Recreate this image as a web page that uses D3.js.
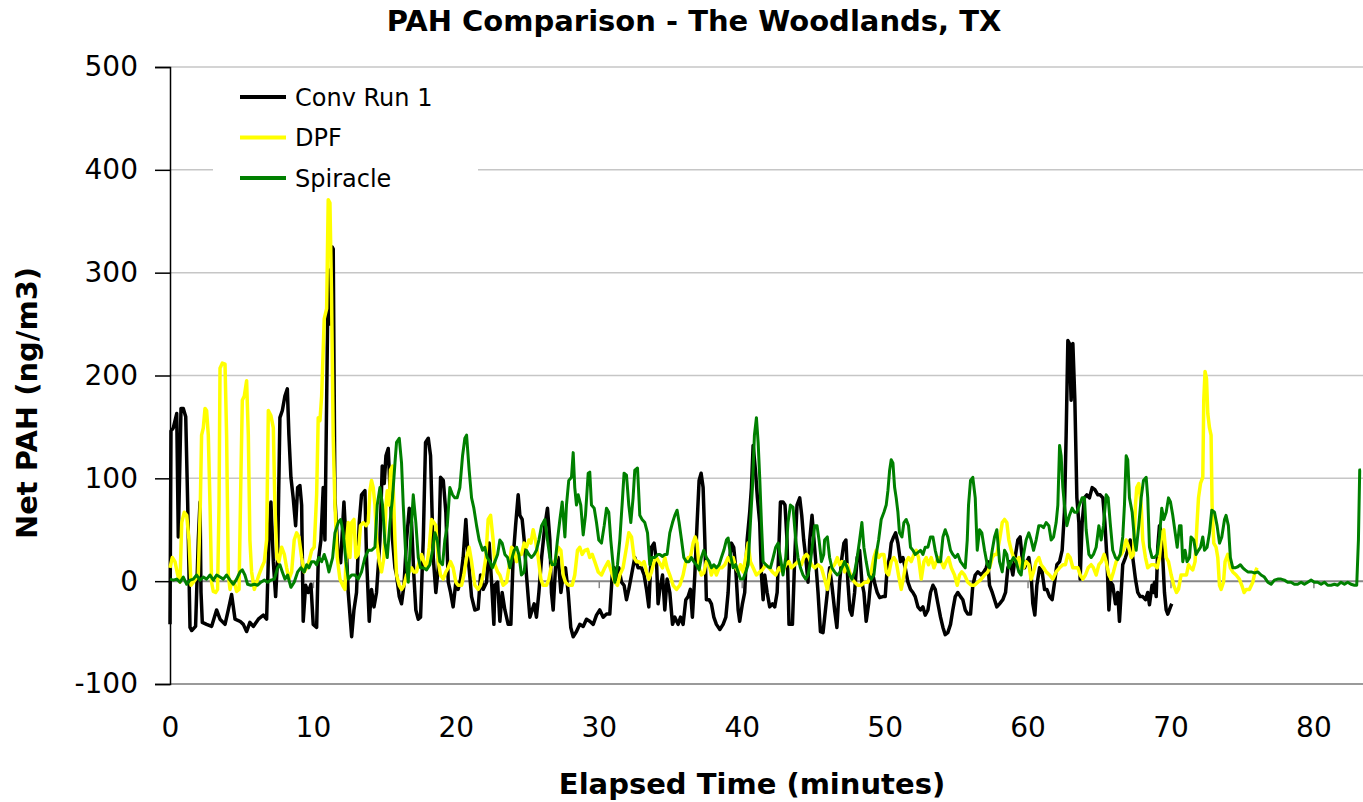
<!DOCTYPE html>
<html>
<head>
<meta charset="utf-8">
<script src="https://cdn.jsdelivr.net/npm/d3@7"></script>
<style>
  body { margin: 0; background: #fff; }
  text { font-family: "DejaVu Sans", Verdana, sans-serif; }
</style>
</head>
<body>
<div id="chart"></div>
<script>
// data: [minutes, ng/m3]

var yTicks = [-100, 0, 100, 200, 300, 400, 500];
var xTicks = [0, 10, 20, 30, 40, 50, 60, 70, 80];
var seriesNames = ['Conv Run 1', 'DPF', 'Spiracle'];
var seriesColors = ['#000000', '#ffff00', '#008000'];
var seriesWidths = [3.5, 3.5, 3];

var convRun1 = [[0.00,-42],[0.07,146],[0.23,149],[0.47,163],[0.58,43],[0.77,168],[0.93,168],[1.10,160],[1.24,74],[1.40,-45],[1.52,-48],[1.79,-44],[1.98,40],[2.10,77],[2.17,-11],[2.26,-40],[2.56,-42],[2.91,-44],[3.26,-28],[3.50,-37],[3.85,-42],[4.08,-28],[4.31,-13],[4.55,-37],[4.90,-39],[5.13,-42],[5.36,-49],[5.59,-40],[5.83,-44],[6.18,-37],[6.53,-33],[6.76,-37],[6.92,40],[7.06,77],[7.23,19],[7.39,-15],[7.53,23],[7.69,159],[7.86,166],[8.04,180],[8.21,187],[8.32,142],[8.46,101],[8.62,81],[8.79,54],[8.93,91],[9.09,93],[9.21,74],[9.32,-39],[9.49,-4],[9.67,-11],[9.86,-3],[10.02,-42],[10.26,-45],[10.37,19],[10.56,40],[10.72,91],[10.84,40],[10.96,176],[11.07,303],[11.20,250],[11.35,325],[11.42,323],[11.54,81],[11.77,23],[11.94,18],[12.17,77],[12.31,40],[12.47,-11],[12.71,-54],[12.87,-28],[13.05,-11],[13.24,57],[13.40,84],[13.64,88],[13.75,23],[13.94,-39],[14.10,-8],[14.27,-25],[14.45,-11],[14.69,40],[14.85,112],[14.99,95],[15.11,122],[15.27,129],[15.39,91],[15.57,40],[15.74,13],[15.85,6],[16.04,-15],[16.20,-22],[16.37,-4],[16.55,40],[16.74,71],[16.90,57],[17.06,6],[17.20,-28],[17.37,-37],[17.53,-35],[17.72,40],[17.88,135],[18.07,139],[18.23,122],[18.42,23],[18.60,-11],[18.77,13],[18.93,101],[19.12,98],[19.30,67],[19.47,-1],[19.63,-11],[19.81,-25],[20.00,-1],[20.16,-8],[20.33,2],[20.51,23],[20.70,60],[20.86,23],[21.10,-15],[21.33,-28],[21.56,-27],[21.73,6],[21.91,-8],[22.15,-1],[22.33,37],[22.50,-1],[22.66,-42],[22.73,-4],[22.92,-1],[23.08,-39],[23.24,-11],[23.43,-28],[23.66,-42],[23.85,-42],[24.01,23],[24.18,54],[24.36,84],[24.48,64],[24.64,60],[24.78,40],[24.94,6],[25.06,-15],[25.18,-35],[25.34,-28],[25.48,-22],[25.64,-35],[25.81,-11],[26.00,23],[26.23,54],[26.41,71],[26.58,40],[26.69,-11],[26.81,-28],[26.97,13],[27.16,23],[27.35,-11],[27.51,6],[27.67,13],[27.86,-11],[28.04,-45],[28.21,-54],[28.44,-49],[28.67,-42],[28.91,-44],[29.14,-37],[29.37,-39],[29.61,-42],[29.84,-33],[30.07,-28],[30.31,-35],[30.54,-32],[30.77,-32],[30.94,6],[31.08,13],[31.24,2],[31.40,13],[31.59,-1],[31.77,-4],[31.94,-18],[32.10,-8],[32.29,6],[32.52,23],[32.75,13],[32.99,13],[33.17,6],[33.34,-8],[33.50,-25],[33.69,33],[33.87,37],[34.04,19],[34.15,-22],[34.27,-8],[34.46,6],[34.62,-28],[34.78,2],[34.97,-11],[35.16,-42],[35.32,-35],[35.55,-42],[35.72,-35],[35.90,-42],[36.09,-18],[36.25,-15],[36.41,-8],[36.55,-35],[36.72,6],[36.88,57],[37.02,98],[37.16,105],[37.30,91],[37.42,40],[37.53,-18],[37.72,-18],[37.88,-22],[38.05,-35],[38.23,-42],[38.47,-47],[38.70,-42],[38.89,-35],[39.05,-11],[39.17,23],[39.28,37],[39.44,33],[39.58,13],[39.75,-28],[39.86,-39],[40.05,-22],[40.21,-11],[40.38,40],[40.56,67],[40.68,91],[40.80,132],[40.96,108],[41.10,81],[41.26,57],[41.38,6],[41.50,-18],[41.61,6],[41.78,-11],[41.96,-25],[42.15,-22],[42.31,-25],[42.48,-11],[42.62,40],[42.71,77],[42.89,77],[43.03,74],[43.17,40],[43.31,-42],[43.55,-42],[43.71,23],[43.87,74],[44.06,81],[44.20,64],[44.34,40],[44.48,23],[44.64,-1],[44.76,40],[44.92,64],[45.04,43],[45.18,19],[45.34,-11],[45.51,-49],[45.69,-50],[45.99,-11],[46.15,13],[46.31,-4],[46.50,-28],[46.66,-45],[46.85,-1],[47.01,23],[47.15,37],[47.29,40],[47.43,-1],[47.57,-28],[47.71,-33],[47.90,-11],[48.08,23],[48.25,30],[48.41,-1],[48.55,-11],[48.71,-39],[48.88,-22],[49.02,-1],[49.18,6],[49.34,-4],[49.48,-11],[49.65,-16],[49.88,-15],[50.04,-15],[50.18,13],[50.35,23],[50.46,37],[50.63,43],[50.77,47],[50.93,37],[51.11,19],[51.28,23],[51.44,13],[51.63,-1],[51.81,-8],[51.98,-11],[52.14,-15],[52.33,-25],[52.51,-28],[52.68,-25],[52.84,-33],[53.03,-28],[53.21,-11],[53.38,-4],[53.54,-8],[53.73,-22],[53.91,-35],[54.08,-45],[54.24,-52],[54.42,-50],[54.61,-42],[54.77,-28],[54.94,-15],[55.12,-11],[55.31,-15],[55.47,-18],[55.64,-28],[55.82,-32],[56.01,-32],[56.17,-4],[56.34,6],[56.52,9],[56.76,6],[56.94,9],[57.11,13],[57.22,19],[57.34,-4],[57.53,-11],[57.69,-18],[57.85,-25],[58.04,-22],[58.27,-18],[58.46,-11],[58.62,13],[58.79,19],[58.97,6],[59.16,26],[59.32,40],[59.48,43],[59.62,23],[59.79,13],[59.95,19],[60.09,23],[60.25,6],[60.37,-22],[60.51,-33],[60.65,-4],[60.84,13],[61.02,9],[61.19,-8],[61.35,-8],[61.54,-15],[61.72,-18],[61.89,-1],[62.05,16],[62.24,19],[62.42,30],[62.58,67],[62.70,142],[62.82,234],[62.93,231],[63.05,176],[63.17,231],[63.31,176],[63.45,81],[63.59,57],[63.68,2],[63.82,57],[63.98,81],[64.15,84],[64.33,81],[64.52,91],[64.71,89],[64.92,84],[65.08,84],[65.27,81],[65.41,57],[65.55,23],[65.69,-28],[65.82,-1],[65.96,-4],[66.15,-22],[66.31,-11],[66.43,-39],[66.55,-11],[66.66,16],[66.85,23],[67.01,30],[67.18,40],[67.36,23],[67.55,2],[67.71,-11],[67.88,-15],[68.06,-15],[68.25,-18],[68.41,-11],[68.53,-23],[68.71,-4],[68.81,-11],[68.88,-1],[69.00,-15],[69.11,33],[69.23,54],[69.35,47],[69.46,23],[69.58,-11],[69.70,-28],[69.81,-32],[70.00,-25],[70.09,-22]];

var dpf = [[0.00,13],[0.16,23],[0.35,19],[0.54,6],[0.70,-1],[0.82,57],[1.00,67],[1.17,64],[1.33,40],[1.47,-4],[1.63,-1],[1.79,2],[1.98,6],[2.12,74],[2.21,142],[2.33,149],[2.45,168],[2.56,166],[2.68,142],[2.80,74],[2.91,-1],[3.03,-10],[3.19,-11],[3.33,-8],[3.43,74],[3.50,207],[3.66,212],[3.85,211],[3.96,142],[4.08,6],[4.20,-8],[4.31,-1],[4.50,-1],[4.66,-10],[4.83,-8],[4.97,108],[5.06,176],[5.20,180],[5.36,195],[5.48,142],[5.59,40],[5.71,9],[5.90,-8],[6.06,-1],[6.22,6],[6.41,13],[6.60,19],[6.76,40],[6.88,166],[7.06,161],[7.23,149],[7.34,74],[7.48,23],[7.62,19],[7.81,33],[8.00,26],[8.16,13],[8.32,2],[8.51,9],[8.69,40],[8.86,47],[9.02,43],[9.21,23],[9.39,9],[9.56,13],[9.72,19],[9.91,30],[10.09,33],[10.26,84],[10.37,159],[10.49,156],[10.61,180],[10.79,255],[10.96,265],[11.07,371],[11.19,368],[11.30,280],[11.42,140],[11.54,74],[11.70,23],[11.89,2],[12.08,-4],[12.24,-8],[12.36,40],[12.47,57],[12.59,23],[12.71,57],[12.87,60],[13.01,23],[13.17,26],[13.33,54],[13.52,57],[13.71,54],[13.87,57],[13.99,88],[14.10,98],[14.22,91],[14.34,74],[14.45,40],[14.64,19],[14.80,9],[14.97,23],[15.11,74],[15.20,88],[15.34,74],[15.43,108],[15.57,112],[15.74,40],[15.85,6],[16.04,-4],[16.20,-8],[16.37,-4],[16.55,6],[16.74,9],[16.90,13],[17.06,9],[17.25,9],[17.44,19],[17.60,26],[17.76,19],[17.95,13],[18.14,33],[18.30,60],[18.46,57],[18.60,54],[18.77,19],[18.93,6],[19.12,2],[19.30,9],[19.47,13],[19.63,19],[19.81,13],[20.00,-1],[20.16,-4],[20.40,-4],[20.56,6],[20.75,23],[20.93,33],[21.10,19],[21.33,-4],[21.56,-8],[21.73,-4],[21.91,6],[22.10,23],[22.26,60],[22.43,64],[22.61,40],[22.73,16],[22.92,9],[23.08,6],[23.31,-4],[23.55,-1],[23.71,13],[23.90,33],[24.08,30],[24.25,19],[24.41,26],[24.59,26],[24.78,37],[24.94,33],[25.11,40],[25.25,37],[25.41,50],[25.57,40],[25.76,23],[25.95,2],[26.11,-4],[26.34,-4],[26.51,2],[26.69,16],[26.93,19],[27.16,33],[27.35,30],[27.51,6],[27.67,-1],[27.90,-4],[28.14,-4],[28.32,6],[28.51,30],[28.67,33],[28.84,26],[29.02,30],[29.21,31],[29.37,23],[29.54,26],[29.72,19],[29.96,9],[30.19,6],[30.42,13],[30.66,19],[30.89,9],[31.12,-1],[31.31,-4],[31.47,6],[31.70,13],[31.94,33],[32.10,47],[32.29,43],[32.47,23],[32.64,19],[32.80,19],[32.99,16],[33.17,19],[33.34,9],[33.50,2],[33.69,9],[33.87,19],[34.04,23],[34.20,19],[34.46,13],[34.62,23],[34.78,13],[34.97,6],[35.20,-4],[35.44,-8],[35.67,-4],[35.90,6],[36.09,19],[36.25,23],[36.41,23],[36.60,37],[36.74,43],[36.88,37],[37.02,13],[37.18,6],[37.35,8],[37.53,19],[37.72,16],[37.88,6],[38.05,13],[38.23,6],[38.42,13],[38.61,13],[38.82,16],[39.05,23],[39.21,19],[39.40,23],[39.58,13],[39.75,9],[39.91,16],[40.10,9],[40.28,23],[40.45,37],[40.61,19],[40.80,13],[41.03,6],[41.26,9],[41.45,11],[41.68,16],[41.92,13],[42.15,9],[42.38,6],[42.62,13],[42.85,9],[43.08,16],[43.31,19],[43.48,13],[43.71,16],[43.94,19],[44.18,16],[44.34,23],[44.53,26],[44.71,23],[44.88,16],[45.11,13],[45.34,16],[45.58,13],[45.80,2],[45.99,-8],[46.15,6],[46.31,13],[46.50,16],[46.69,23],[46.85,16],[47.01,19],[47.20,9],[47.39,16],[47.55,9],[47.71,2],[47.90,-1],[48.13,-4],[48.36,-4],[48.60,-1],[48.83,-1],[49.06,9],[49.25,23],[49.41,30],[49.58,23],[49.76,26],[49.95,26],[50.11,9],[50.28,6],[50.46,19],[50.65,23],[50.81,19],[50.97,6],[51.16,-8],[51.35,6],[51.51,19],[51.67,23],[51.86,19],[52.05,26],[52.21,30],[52.37,23],[52.56,2],[52.75,19],[52.91,23],[53.07,16],[53.26,23],[53.45,13],[53.61,19],[53.77,23],[53.96,19],[54.14,13],[54.31,19],[54.47,23],[54.66,13],[54.89,6],[55.08,-4],[55.24,6],[55.40,9],[55.59,6],[55.82,-1],[56.06,-4],[56.29,-4],[56.52,-1],[56.76,2],[56.99,6],[57.22,9],[57.34,13],[57.53,23],[57.69,26],[57.85,26],[58.04,40],[58.23,57],[58.39,60],[58.55,57],[58.69,40],[58.86,30],[59.02,23],[59.20,19],[59.39,23],[59.55,13],[59.72,13],[59.90,19],[60.09,16],[60.25,2],[60.42,9],[60.60,19],[60.79,23],[60.95,16],[61.12,13],[61.30,9],[61.54,6],[61.77,2],[62.00,9],[62.24,13],[62.47,16],[62.65,16],[62.82,26],[62.98,23],[63.17,13],[63.35,13],[63.52,13],[63.68,6],[63.87,2],[64.05,6],[64.24,13],[64.45,16],[64.61,13],[64.80,6],[64.99,16],[65.17,19],[65.36,26],[65.50,19],[65.69,6],[65.85,2],[66.01,9],[66.20,19],[66.38,23],[66.55,26],[66.71,30],[66.90,40],[67.08,33],[67.25,23],[67.41,26],[67.55,74],[67.64,91],[67.78,95],[67.95,74],[68.06,40],[68.25,23],[68.41,13],[68.65,16],[68.88,16],[69.07,13],[69.23,23],[69.39,47],[69.53,50],[69.70,23],[69.86,19],[70.05,6],[70.23,-4],[70.42,-11],[70.56,-8],[70.74,6],[70.93,6],[71.12,6],[71.26,16],[71.40,13],[71.56,11],[71.72,19],[71.86,57],[71.96,81],[72.10,95],[72.26,101],[72.33,176],[72.42,204],[72.52,197],[72.61,163],[72.73,149],[72.84,142],[72.91,74],[73.03,37],[73.19,33],[73.31,23],[73.43,-4],[73.54,-8],[73.71,-1],[73.82,19],[74.01,26],[74.19,13],[74.36,9],[74.59,6],[74.82,2],[74.99,-4],[75.15,-11],[75.30,-8],[75.52,-8],[75.76,-1],[75.92,9],[76.06,13]];

var spiracle = [[0.00,2],[0.23,1],[0.47,2],[0.70,-1],[0.93,4],[1.17,-3],[1.40,1],[1.63,2],[1.86,6],[2.10,1],[2.33,4],[2.56,2],[2.80,6],[3.03,1],[3.26,6],[3.50,4],[3.73,2],[3.96,6],[4.20,1],[4.43,-3],[4.66,2],[4.90,9],[5.06,11],[5.24,6],[5.43,-3],[5.66,-4],[5.90,-3],[6.13,-4],[6.36,-1],[6.60,1],[6.83,-1],[7.06,1],[7.30,2],[7.53,13],[7.69,16],[7.86,9],[8.04,2],[8.23,6],[8.46,-6],[8.69,-1],[8.93,9],[9.16,13],[9.39,9],[9.56,16],[9.72,13],[9.91,19],[10.09,19],[10.26,16],[10.42,23],[10.61,19],[10.79,26],[10.96,19],[11.12,9],[11.38,23],[11.54,47],[11.77,57],[11.94,60],[12.12,47],[12.31,19],[12.47,2],[12.71,6],[12.94,6],[13.17,2],[13.40,9],[13.64,23],[13.87,30],[14.10,30],[14.34,33],[14.50,74],[14.69,91],[14.87,74],[15.04,37],[15.20,23],[15.39,57],[15.57,81],[15.74,115],[15.85,135],[16.04,139],[16.20,115],[16.32,74],[16.50,23],[16.67,-1],[16.83,40],[17.02,84],[17.20,57],[17.37,23],[17.53,13],[17.72,13],[17.95,11],[18.18,16],[18.37,30],[18.53,47],[18.70,40],[18.88,19],[19.07,16],[19.23,40],[19.40,54],[19.58,91],[19.77,84],[19.93,81],[20.09,81],[20.28,91],[20.47,122],[20.63,139],[20.75,142],[20.93,108],[21.10,81],[21.26,71],[21.45,54],[21.63,40],[21.87,30],[22.03,33],[22.19,23],[22.38,19],[22.56,13],[22.73,19],[22.92,26],[23.08,40],[23.24,37],[23.43,26],[23.62,23],[23.78,13],[23.94,23],[24.08,30],[24.25,33],[24.41,26],[24.59,6],[24.78,9],[24.94,30],[25.11,26],[25.29,23],[25.48,26],[25.64,30],[25.81,40],[26.00,54],[26.23,60],[26.41,40],[26.58,23],[26.74,16],[26.93,16],[27.11,40],[27.28,60],[27.44,77],[27.63,43],[27.74,74],[27.90,98],[28.09,101],[28.21,125],[28.32,91],[28.44,74],[28.56,84],[28.74,74],[28.91,45],[29.07,64],[29.26,105],[29.37,106],[29.49,74],[29.68,71],[29.84,57],[30.00,40],[30.19,37],[30.38,54],[30.54,71],[30.70,67],[30.84,40],[31.00,16],[31.12,-1],[31.31,16],[31.47,40],[31.63,74],[31.77,105],[31.94,103],[32.10,74],[32.24,57],[32.40,81],[32.52,108],[32.71,110],[32.87,64],[33.03,60],[33.22,57],[33.41,47],[33.57,16],[33.73,23],[33.92,23],[34.15,26],[34.27,26],[34.46,24],[34.62,26],[34.78,26],[34.97,47],[35.16,57],[35.32,64],[35.48,69],[35.62,57],[35.79,40],[35.95,23],[36.13,19],[36.32,19],[36.48,23],[36.65,19],[36.83,16],[37.02,11],[37.18,23],[37.35,30],[37.53,23],[37.72,19],[37.88,13],[38.05,16],[38.23,13],[38.42,16],[38.58,23],[38.75,30],[38.93,40],[39.05,42],[39.21,26],[39.40,13],[39.58,16],[39.75,9],[39.91,2],[40.10,2],[40.28,9],[40.45,16],[40.61,57],[40.75,91],[40.89,142],[41.03,159],[41.15,135],[41.26,101],[41.38,57],[41.50,19],[41.68,16],[41.85,14],[42.01,13],[42.20,23],[42.38,33],[42.55,37],[42.71,23],[42.89,6],[43.08,23],[43.24,57],[43.41,74],[43.59,72],[43.78,40],[43.94,23],[44.11,13],[44.29,6],[44.48,2],[44.64,6],[44.81,19],[44.99,40],[45.11,54],[45.27,54],[45.41,40],[45.58,19],[45.74,26],[45.80,40],[45.99,43],[46.15,23],[46.31,13],[46.50,9],[46.69,6],[46.85,8],[47.01,13],[47.20,19],[47.39,13],[47.55,6],[47.71,2],[47.90,9],[48.08,23],[48.25,40],[48.41,57],[48.55,33],[48.71,19],[48.88,6],[49.06,2],[49.25,6],[49.41,26],[49.58,40],[49.76,60],[49.95,67],[50.11,74],[50.23,88],[50.35,108],[50.46,118],[50.58,115],[50.70,91],[50.81,81],[50.93,67],[51.04,47],[51.21,43],[51.35,57],[51.51,60],[51.67,54],[51.81,33],[51.98,30],[52.14,26],[52.33,28],[52.51,30],[52.68,26],[52.84,33],[53.03,33],[53.21,43],[53.38,43],[53.54,30],[53.73,19],[53.91,19],[54.08,43],[54.24,50],[54.42,43],[54.61,30],[54.77,26],[54.94,23],[55.12,26],[55.31,19],[55.47,16],[55.64,13],[55.78,40],[55.87,74],[56.01,98],[56.17,101],[56.34,81],[56.48,30],[56.64,50],[56.80,47],[56.99,30],[57.18,16],[57.34,13],[57.53,30],[57.69,43],[57.85,50],[58.04,19],[58.23,9],[58.39,30],[58.55,26],[58.69,13],[58.86,19],[59.02,23],[59.20,19],[59.39,9],[59.55,6],[59.72,26],[59.90,40],[60.09,47],[60.25,40],[60.42,30],[60.60,40],[60.79,54],[60.95,54],[61.12,52],[61.30,57],[61.49,54],[61.65,40],[61.82,43],[62.00,57],[62.12,74],[62.24,132],[62.35,122],[62.47,91],[62.58,74],[62.75,54],[62.93,64],[63.12,71],[63.28,67],[63.45,67],[63.63,74],[63.82,81],[63.98,81],[64.10,50],[64.29,26],[64.45,23],[64.61,26],[64.80,33],[64.99,54],[65.15,40],[65.31,54],[65.50,84],[65.64,81],[65.78,57],[65.96,30],[66.15,23],[66.31,21],[66.48,26],[66.66,43],[66.78,74],[66.90,122],[67.01,118],[67.13,81],[67.32,67],[67.48,40],[67.60,30],[67.78,54],[67.95,81],[68.11,98],[68.30,101],[68.41,81],[68.53,33],[68.71,23],[68.88,23],[69.07,26],[69.23,43],[69.39,71],[69.53,60],[69.70,67],[69.86,81],[70.00,77],[70.16,64],[70.33,47],[70.47,33],[70.63,54],[70.74,54],[70.86,19],[71.02,30],[71.16,19],[71.33,23],[71.44,43],[71.63,40],[71.79,26],[71.96,30],[72.10,33],[72.26,43],[72.38,30],[72.56,33],[72.73,47],[72.89,69],[73.08,67],[73.26,54],[73.43,37],[73.59,43],[73.78,60],[73.89,64],[74.05,54],[74.19,23],[74.36,13],[74.52,13],[74.71,14],[74.89,16],[75.06,13],[75.22,11],[75.41,9],[75.64,9],[75.87,8],[76.11,9],[76.34,6],[76.57,4],[76.81,-1],[77.04,-3],[77.27,1],[77.50,2],[77.74,2],[77.97,1],[78.20,-1],[78.44,-1],[78.67,-3],[78.90,-3],[79.14,-1],[79.37,-3],[79.60,-1],[79.84,1],[80.07,-1],[80.30,-1],[80.54,-3],[80.77,-1],[81.00,-4],[81.23,-4],[81.47,-3],[81.70,-4],[81.93,-1],[82.17,-3],[82.40,-1],[82.63,-3],[82.87,-4],[83.03,-4],[83.15,40],[83.24,108],[83.33,108]];

var allSeries = [convRun1, dpf, spiracle];

//sizes

var width = 1363,
	height = 802,
	plot = {left: 170, right: 1362, top: 67, bottom: 684};

var svg = d3.select('#chart')
	.append('svg')
	.attr('width', width)
	.attr('height', height);

var x = d3.scaleLinear().domain([0, 83.4]).range([plot.left, plot.right]);
var y = d3.scaleLinear().domain([-100, 500]).range([plot.bottom, plot.top]);

// gridlines
svg.append('g')
	.selectAll('line')
	.data(yTicks.filter(function(d){ return d > 0; }))
	.enter().append('line')
	.attr('x1', plot.left).attr('x2', width)
	.attr('y1', function(d){ return y(d); })
	.attr('y2', function(d){ return y(d); })
	.attr('stroke', '#c6c6c6')
	.attr('stroke-width', 1.5);

// bottom edge of plot
svg.append('line')
	.attr('x1', plot.left).attr('x2', width)
	.attr('y1', y(-100)).attr('y2', y(-100))
	.attr('stroke', '#9a9a9a')
	.attr('stroke-width', 2);

// x axis at zero, tick marks only
var xZero = svg.append('g')
	.attr('transform', 'translate(0,' + y(0) + ')')
	.call(d3.axisBottom(x).tickValues(xTicks).tickFormat('').tickSizeInner(7).tickSizeOuter(0));
xZero.select('.domain').attr('stroke', '#868686').attr('stroke-width', 2).attr('d', 'M' + plot.left + ',0H' + width);
xZero.selectAll('.tick line').attr('stroke', '#868686').attr('stroke-width', 1.5);

// x labels along the bottom
var xLab = svg.append('g')
	.attr('transform', 'translate(0,' + y(-100) + ')')
	.call(d3.axisBottom(x).tickValues(xTicks).tickSize(0).tickPadding(33));
xLab.select('.domain').remove();
xLab.selectAll('text')
	.style('font-family', '"DejaVu Sans", Verdana, sans-serif')
	.style('font-size', '28px')
	.attr('fill', '#000');

// y axis (plain hyphen for negatives, like the original)
var yAx = svg.append('g')
	.attr('transform', 'translate(' + plot.left + ',0)')
	.call(d3.axisLeft(y).tickValues(yTicks).tickFormat(function(d){ return String(d); }).tickSize(15).tickPadding(17));
yAx.select('.domain').attr('stroke', '#000').attr('stroke-width', 1.5);
yAx.selectAll('.tick line').attr('stroke', '#000').attr('stroke-width', 1.5);
yAx.selectAll('text')
	.style('font-family', '"DejaVu Sans", Verdana, sans-serif')
	.style('font-size', '28px')
	.attr('fill', '#000');

// series
var line = d3.line()
	.x(function(d){ return x(d[0]); })
	.y(function(d){ return y(d[1]); });

svg.append('g')
	.selectAll('path')
	.data(allSeries)
	.enter().append('path')
	.attr('d', line)
	.attr('fill', 'none')
	.attr('stroke', function(d, i){ return seriesColors[i]; })
	.attr('stroke-width', function(d, i){ return seriesWidths[i]; })
	.attr('stroke-linejoin', 'round');

// legend
var legend = svg.append('g');
legend.append('rect')
	.attr('x', 213).attr('y', 76)
	.attr('width', 265).attr('height', 120)
	.attr('fill', '#fff');

var rows = legend.selectAll('g.row')
	.data(seriesNames)
	.enter().append('g')
	.classed('row', true)
	.attr('transform', function(d, i){ return 'translate(0,' + (97 + i * 40.5) + ')'; });
rows.append('line')
	.attr('x1', 240).attr('x2', 286)
	.attr('stroke', function(d, i){ return seriesColors[i]; })
	.attr('stroke-width', 4);
rows.append('text')
	.attr('x', 295).attr('y', 8.5)
	.style('font-size', '24px')
	.text(function(d){ return d; });

// titles
svg.append('text')
	.attr('x', 694).attr('y', 31)
	.attr('text-anchor', 'middle')
	.style('font-size', '29px').style('font-weight', 'bold')
	.text('PAH Comparison - The Woodlands, TX');

svg.append('text')
	.attr('x', 752).attr('y', 794)
	.attr('text-anchor', 'middle')
	.style('font-size', '29px').style('font-weight', 'bold')
	.text('Elapsed Time (minutes)');

svg.append('text')
	.attr('transform', 'translate(37,403) rotate(-90)')
	.attr('text-anchor', 'middle')
	.style('font-size', '29px').style('font-weight', 'bold')
	.text('Net PAH (ng/m3)');
</script>
</body>
</html>
